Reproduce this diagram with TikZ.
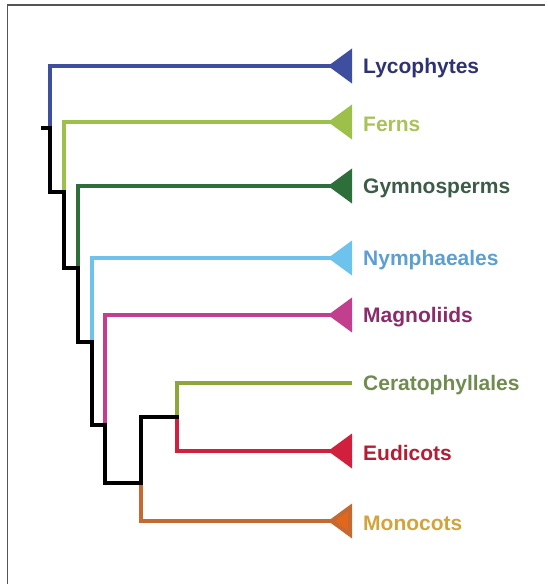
\documentclass[tikz,border=0pt]{standalone}
\usepackage{fontspec}
\setmainfont{Liberation Sans}
\usepackage{xcolor}
\definecolor{colLyco}{HTML}{3F4FA0}
\definecolor{colLycoText}{HTML}{2E3272}
\definecolor{colFern}{HTML}{9CC04A}
\definecolor{colFernText}{HTML}{A9C25A}
\definecolor{colGymno}{HTML}{2E6E3A}
\definecolor{colGymnoText}{HTML}{3D5C48}
\definecolor{colNymph}{HTML}{6EC3EC}
\definecolor{colNymphText}{HTML}{5E9FD2}
\definecolor{colMagn}{HTML}{C23E8E}
\definecolor{colMagnText}{HTML}{8A2C6C}
\definecolor{colCerato}{HTML}{8CA63C}
\definecolor{colCeratoText}{HTML}{6F8C4E}
\definecolor{colEudi}{HTML}{D0203E}
\definecolor{colEudiText}{HTML}{B31E34}
\definecolor{colMono}{HTML}{C46A30}
\definecolor{colMonoTip}{HTML}{E2661C}
\definecolor{colMonoText}{HTML}{D4A43C}
\definecolor{colFrame}{HTML}{555555}
\usepackage{tikz}
\usetikzlibrary{arrows.meta, positioning}
\tikzset{
	branch/.style={line width=4pt, line join=miter},
	backbone/.style={branch, black, line cap=rect},
	leaf/.style={branch, -{Triangle[reversed, length=24pt, width=34pt]}},
	taxon/.style={inner sep=0pt, font=\fontsize{21}{25}\selectfont\bfseries, anchor=base west, yshift=-2pt},
}

\begin{document}
\begin{tikzpicture}[x=1pt, y=-1pt]
		\useasboundingbox (0,0) rectangle (547,584);

		% Frame
		\draw[colFrame, line width=1.5pt] (7.5,584) -- (7.5,5) -- (545,5);

		% Inner nodes of the tree
		\coordinate (root) at (43,128);
		\coordinate (j1) at (50,128);
		\coordinate (j2) at (64,192);
		\coordinate (j3) at (78,268);
		\coordinate (j4) at (92,342);
		\coordinate (j5) at (105,425);
		\coordinate (j6) at (141,483);
		\coordinate (j7) at (177,417);

		% Leaf ends
		\coordinate (lycoEnd) at (352,66);
		\coordinate (fernEnd) at (352,122);
		\coordinate (gymnoEnd) at (352,186);
		\coordinate (nymphEnd) at (352,258);
		\coordinate (magnEnd) at (352,315);
		\coordinate (ceratoEnd) at (352,383);
		\coordinate (eudiEnd) at (352,451);
		\coordinate (monoEnd) at (352,521);

		% Labels
		\node[taxon, right=11pt of lycoEnd, text=colLycoText] (lyco) {Lycophytes};
		\node[taxon, right=11pt of fernEnd, text=colFernText] (fern) {Ferns};
		\node[taxon, right=11pt of gymnoEnd, text=colGymnoText] (gymno) {Gymnosperms};
		\node[taxon, right=11pt of nymphEnd, text=colNymphText] (nymph) {Nymphaeales};
		\node[taxon, right=11pt of magnEnd, text=colMagnText] (magn) {Magnoliids};
		\node[taxon, right=11pt of ceratoEnd, text=colCeratoText] (cerato) {Ceratophyllales};
		\node[taxon, right=11pt of eudiEnd, text=colEudiText] (eudi) {Eudicots};
		\node[taxon, right=11pt of monoEnd, text=colMonoText] (mono) {Monocots};

		% Coloured branches
		\draw[leaf, colLyco] (j1) |- (lycoEnd);
		\draw[leaf, colFern] (j2) |- (fernEnd);
		\draw[leaf, colGymno] (j3) |- (gymnoEnd);
		\draw[leaf, colNymph] (j4) |- (nymphEnd);
		\draw[leaf, colMagn] (j5) |- (magnEnd);
		\draw[branch, colCerato] (j7) |- (ceratoEnd);
		\draw[leaf, colEudi] (j7) |- (eudiEnd);
		\draw[branch, colMono, -{Triangle[reversed, length=24pt, width=34pt, fill=colMonoTip]}] (j6) |- (monoEnd);

		% Backbone
		\draw[backbone] (root) -- (j1) |- (j2) |- (j3) |- (j4) |- (j5) |- (j6) |- (j7);
	\end{tikzpicture}
\end{document}
